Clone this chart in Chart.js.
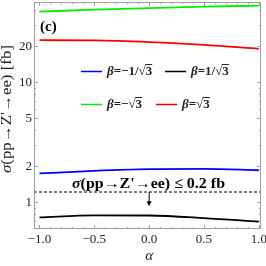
<!DOCTYPE html>
<html>
<head>
<meta charset="utf-8">
<script src="https://cdn.jsdelivr.net/npm/chart.js@4/dist/chart.umd.min.js"></script>
<style>
  html, body { margin: 0; padding: 0; background: #fff; }
  #wrap { width: 266px; height: 266px; }
</style>
</head>
<body>
<div id="wrap"><canvas id="c"></canvas></div>
<script>
// ---- data ----
const ALPHA = [-1, -0.5, 0, 0.5, 1];
const BETA_M_INV = [1.74, 1.83, 1.89, 1.90, 1.85];   // beta = -1/sqrt3
const BETA_P_INV = [0.75, 0.78, 0.777, 0.74, 0.69];  // beta = 1/sqrt3
const BETA_M_SQ = [38.7, 40.2, 41.5, 42.6, 43.4];    // beta = -sqrt3
const BETA_P_SQ = [22.4, 22.3, 21.6, 20.5, 19.0];    // beta = sqrt3
const LIMIT = 1.22;         // dashed bound line
const ARROW_TO = 0.93;

const X_MAJOR = [-1, -0.5, 0, 0.5, 1];
const X_LABELS = ['\u22121.0', '\u22120.5', '0.0', '0.5', '1.0'];
const Y_MAJOR = [1, 2, 5, 10, 20];
const Y_MINOR = [0.7, 0.8, 0.9, 3, 4, 6, 7, 8, 9, 30, 40];

const SERIF = '"Liberation Serif", "DejaVu Serif", serif';

function pts(ys) { return ALPHA.map((a, i) => ({ x: a, y: ys[i] })); }

// draw σ in italic then the rest upright, scaled to a given width
function sigmaText(ctx, rest, x, y, width, size, bold) {
  const b = bold ? 'bold ' : '';
  ctx.font = 'italic ' + b + size + 'px ' + SERIF;
  const w0 = ctx.measureText('\u03c3').width;
  ctx.font = b + size + 'px ' + SERIF;
  const w1 = ctx.measureText(rest).width;
  const k = width / (w0 + w1);
  ctx.save();
  ctx.translate(x, y);
  ctx.scale(k, 1);
  ctx.textAlign = 'left';
  ctx.font = 'italic ' + b + size + 'px ' + SERIF;
  ctx.fillText('\u03c3', 0, 0);
  ctx.font = b + size + 'px ' + SERIF;
  ctx.fillText(rest, w0, 0);
  ctx.restore();
}

const frame = {
  id: 'frame',
  afterDraw(chart) {
    const ctx = chart.ctx, a = chart.chartArea;
    const xs = chart.scales.x, ys = chart.scales.y;
    ctx.save();
    ctx.strokeStyle = '#a0a0a0';
    ctx.lineWidth = 1;
    ctx.strokeRect(a.left + 0.5, a.top + 0.5, a.right - a.left - 1, a.bottom - a.top - 1);
    ctx.beginPath();
    // x ticks
    for (let v = -10; v <= 10; v++) {
      const px = Math.round(xs.getPixelForValue(v / 10)) + 0.5;
      const len = v % 5 === 0 ? 4 : 2;
      ctx.moveTo(px, a.bottom); ctx.lineTo(px, a.bottom - len);
      ctx.moveTo(px, a.top); ctx.lineTo(px, a.top + len);
    }
    // y ticks
    const yt = Y_MAJOR.map(v => [v, 4]).concat(Y_MINOR.map(v => [v, 2]));
    yt.forEach(([v, len]) => {
      const py = Math.round(ys.getPixelForValue(v)) + 0.5;
      ctx.moveTo(a.left, py); ctx.lineTo(a.left + len, py);
      ctx.moveTo(a.right, py); ctx.lineTo(a.right - len, py);
    });
    ctx.stroke();

    // tick labels
    ctx.fillStyle = '#222';
    ctx.font = '13px ' + SERIF;
    ctx.textAlign = 'center'; ctx.textBaseline = 'middle';
    X_MAJOR.forEach((v, i) => ctx.fillText(X_LABELS[i], xs.getPixelForValue(v), 240));
    ctx.textAlign = 'right';
    Y_MAJOR.forEach(v => ctx.fillText(String(v), 32, ys.getPixelForValue(v)));

    // axis titles
    ctx.font = 'italic 15px ' + SERIF;
    ctx.textAlign = 'center';
    ctx.fillText('\u03b1', xs.getPixelForValue(0), 256);
    ctx.save();
    ctx.translate(7, 109);
    ctx.rotate(-Math.PI / 2);
    sigmaText(ctx, '(pp\u2192Z\'\u2192ee) [fb]', -64, 0, 128, 14, false);
    ctx.restore();

    // panel tag
    ctx.fillStyle = '#000';
    ctx.font = 'bold 15px ' + SERIF;
    ctx.textAlign = 'left';
    ctx.fillText('(c)', 40, 27);

    // bound text
    sigmaText(ctx, '(pp\u2192Z\'\u2192ee) \u2264 0.2 fb', 72, 184, 153, 15, true);

    // arrow
    const ax = xs.getPixelForValue(0);
    const y0 = ys.getPixelForValue(LIMIT), y1 = ys.getPixelForValue(ARROW_TO);
    ctx.strokeStyle = '#000';
    ctx.beginPath(); ctx.moveTo(ax, y0); ctx.lineTo(ax, y1 - 4); ctx.stroke();
    ctx.beginPath(); ctx.moveTo(ax - 2.5, y1 - 5); ctx.lineTo(ax + 2.5, y1 - 5); ctx.lineTo(ax, y1); ctx.closePath(); ctx.fill();

    // legend
    const rows = [
      [{ c: '#0000ff', t: '\u03b2=\u22121/\u221a3', x: 81 }, { c: '#000000', t: '\u03b2=1/\u221a3', x: 165 }],
      [{ c: '#00ee00', t: '\u03b2=\u2212\u221a3', x: 81 }, { c: '#ff0000', t: '\u03b2=\u221a3', x: 156 }]
    ];
    const rowY = [71, 104];
    rows.forEach((row, r) => {
      row.forEach(e => {
        const y = rowY[r];
        ctx.strokeStyle = e.c; ctx.lineWidth = 1.5;
        ctx.beginPath(); ctx.moveTo(e.x, y + 0.5); ctx.lineTo(e.x + 21, y + 0.5); ctx.stroke();
        let tx = e.x + 26;
        ctx.fillStyle = '#222';
        ctx.font = 'italic bold 13px ' + SERIF;
        ctx.fillText('\u03b2', tx, y + 1);
        tx += ctx.measureText('\u03b2').width;
        ctx.font = 'bold 13px ' + SERIF;
        const rest = e.t.slice(1);
        ctx.fillText(rest, tx, y + 1);
        // overbar on the 3
        const w = ctx.measureText(rest).width, w3 = ctx.measureText('3').width;
        ctx.lineWidth = 1; ctx.strokeStyle = '#222';
        ctx.beginPath(); ctx.moveTo(tx + w - w3 - 0.5, y - 6.5); ctx.lineTo(tx + w, y - 6.5); ctx.stroke();
      });
    });
    ctx.restore();
  }
};

function line(data, color) {
  return {
    data: pts(data), borderColor: color, borderWidth: 1.8, pointRadius: 0,
    showLine: true, fill: false, tension: 0.4, cubicInterpolationMode: 'monotone'
  };
}

new Chart(document.getElementById('c'), {
  type: 'scatter',
  data: {
    datasets: [
      line(BETA_M_SQ, '#00ee00'),
      line(BETA_P_SQ, '#ff0000'),
      line(BETA_M_INV, '#0000ff'),
      line(BETA_P_INV, '#000000'),
      {
        data: [{ x: -1.05, y: LIMIT }, { x: 1.02, y: LIMIT }],
        borderColor: '#000', borderWidth: 1.2, borderDash: [3, 2],
        pointRadius: 0, showLine: true, fill: false
      }
    ]
  },
  options: {
    responsive: true, maintainAspectRatio: false, animation: false,
    layout: { padding: { left: 34, right: 5, top: 2, bottom: 37 } },
    plugins: { legend: { display: false }, tooltip: { enabled: false } },
    scales: {
      x: { type: 'linear', min: -1.05, max: 1.02, display: false },
      y: { type: 'logarithmic', min: 0.632, max: 46.6, display: false }
    }
  },
  plugins: [frame]
});
</script>
</body>
</html>
